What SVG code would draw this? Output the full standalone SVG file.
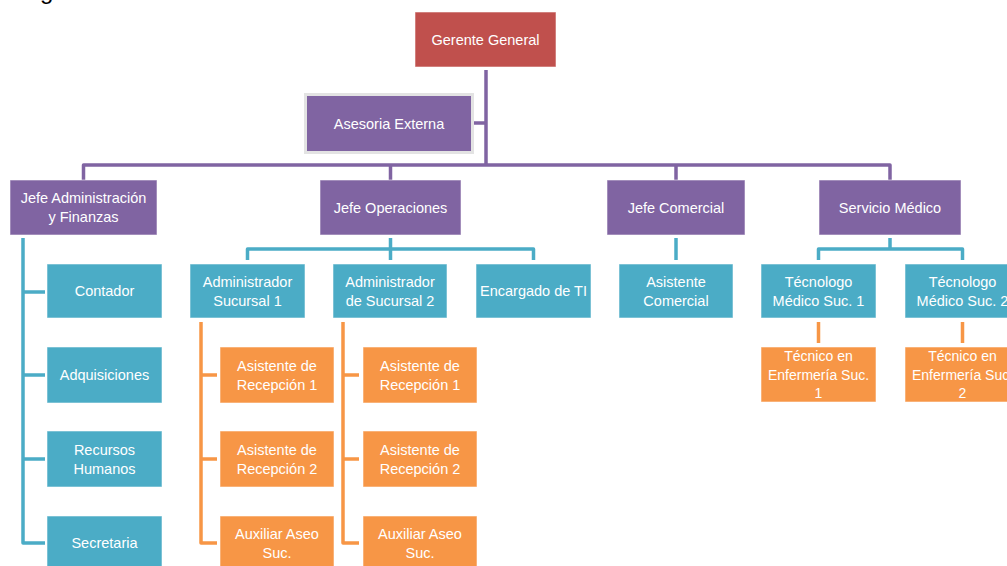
<svg xmlns="http://www.w3.org/2000/svg" width="1007" height="566" viewBox="0 0 1007 566">
<style>
.box{stroke:#ffffff;stroke-opacity:0.55;stroke-width:1}
.red{fill:#c0504d}
.pur{fill:#8064a2}
.teal{fill:#4bacc6}
.org{fill:#f79646}
.t{font-family:"Liberation Sans",Arial,sans-serif;font-size:14.5px;fill:#ffffff;text-anchor:middle}
.s{font-size:14px}
.c{fill:none;stroke-width:3.5;stroke-linejoin:round;stroke-linecap:butt}
.cp{stroke:#8064a2}
.ct{stroke:#4bacc6}
.co{stroke:#f79646}
</style>
<rect width="1007" height="566" fill="#ffffff"/>
<text x="40" y="-1" font-family="Liberation Sans,Arial,sans-serif" font-size="24" fill="#000000">g</text>
<g id="connectors">
<path class="c cp" d="M486,70 V165 M83.5,180 V165 H890 V180 M390.5,165 V180 M676,165 V180 M474,123 H486"/>
<path class="c ct" d="M23,238 V543 H45 M23,292 H45 M23,375 H45 M23,459 H45"/>
<path class="c ct" d="M390.5,238 V260 M247.5,260 V249 H533.5 V260"/>
<path class="c ct" d="M676,238 V260"/>
<path class="c ct" d="M890,238 V249 M818.5,260 V249 H962.5 V260"/>
<path class="c co" d="M201,322 V543 H217 M201,375 H217 M201,459 H217"/>
<path class="c co" d="M343,322 V543 H359 M343,375 H359 M343,459 H359"/>
<path class="c co" d="M818.5,322 V343 M962.5,322 V343"/>
</g>
<g id="gerente-general"><rect class="box red" x="415" y="12" width="141" height="55"/><text class="t" x="485.5" y="45">Gerente General</text></g>
<g id="asesoria-externa"><rect x="304" y="93" width="170" height="61" fill="#e3e3e3"/><rect class="pur" x="307" y="96" width="164" height="55"/><text class="t" x="389" y="128.5">Asesoria Externa</text></g>
<g id="jefe-admin"><rect class="box pur" x="10" y="180" width="147" height="55"/><text class="t" x="83.5" y="203"><tspan x="83.5">Jefe Administración</tspan><tspan x="83.5" dy="19">y Finanzas</tspan></text></g>
<g id="jefe-operaciones"><rect class="box pur" x="320" y="180" width="141" height="55"/><text class="t" x="390.5" y="212.5">Jefe Operaciones</text></g>
<g id="jefe-comercial"><rect class="box pur" x="607" y="180" width="138" height="55"/><text class="t" x="676" y="212.5">Jefe Comercial</text></g>
<g id="servicio-medico"><rect class="box pur" x="819" y="180" width="142" height="55"/><text class="t" x="890" y="212.5">Servicio Médico</text></g>
<g id="contador"><rect class="box teal" x="47" y="264" width="115" height="54"/><text class="t" x="104.5" y="296">Contador</text></g>
<g id="adquisiciones"><rect class="box teal" x="47" y="347" width="115" height="56"/><text class="t" x="104.5" y="380">Adquisiciones</text></g>
<g id="recursos-humanos"><rect class="box teal" x="47" y="431" width="115" height="56"/><text class="t" x="104.5" y="455"><tspan x="104.5">Recursos</tspan><tspan x="104.5" dy="18.5">Humanos</tspan></text></g>
<g id="secretaria"><rect class="box teal" x="47" y="516" width="115" height="56"/><text class="t" x="104.5" y="548">Secretaria</text></g>
<g id="admin-suc1"><rect class="box teal" x="190" y="264" width="115" height="54"/><text class="t" x="247.5" y="287"><tspan x="247.5">Administrador</tspan><tspan x="247.5" dy="18.5">Sucursal 1</tspan></text></g>
<g id="admin-suc2"><rect class="box teal" x="333" y="264" width="114" height="54"/><text class="t" x="390" y="287"><tspan x="390">Administrador</tspan><tspan x="390" dy="18.5">de Sucursal 2</tspan></text></g>
<g id="encargado-ti"><rect class="box teal" x="476" y="264" width="115" height="54"/><text class="t" x="533.5" y="296">Encargado de TI</text></g>
<g id="asistente-comercial"><rect class="box teal" x="619" y="264" width="114" height="54"/><text class="t" x="676" y="287"><tspan x="676">Asistente</tspan><tspan x="676" dy="18.5">Comercial</tspan></text></g>
<g id="tecnologo-1"><rect class="box teal" x="761" y="264" width="115" height="54"/><text class="t" x="818.5" y="287"><tspan x="818.5">Técnologo</tspan><tspan x="818.5" dy="18.5">Médico Suc. 1</tspan></text></g>
<g id="tecnologo-2"><rect class="box teal" x="905" y="264" width="115" height="54"/><text class="t" x="962.5" y="287"><tspan x="962.5">Técnologo</tspan><tspan x="962.5" dy="18.5">Médico Suc. 2</tspan></text></g>
<g id="asist-recep1-s1"><rect class="box org" x="220" y="347" width="114" height="56"/><text class="t" x="277" y="371"><tspan x="277">Asistente de</tspan><tspan x="277" dy="18.5">Recepción 1</tspan></text></g>
<g id="asist-recep2-s1"><rect class="box org" x="220" y="431" width="114" height="56"/><text class="t" x="277" y="455"><tspan x="277">Asistente de</tspan><tspan x="277" dy="18.5">Recepción 2</tspan></text></g>
<g id="aux-aseo-s1"><rect class="box org" x="220" y="516" width="114" height="56"/><text class="t" x="277" y="539"><tspan x="277">Auxiliar Aseo</tspan><tspan x="277" dy="18.5">Suc.</tspan></text></g>
<g id="asist-recep1-s2"><rect class="box org" x="363" y="347" width="114" height="56"/><text class="t" x="420" y="371"><tspan x="420">Asistente de</tspan><tspan x="420" dy="18.5">Recepción 1</tspan></text></g>
<g id="asist-recep2-s2"><rect class="box org" x="363" y="431" width="114" height="56"/><text class="t" x="420" y="455"><tspan x="420">Asistente de</tspan><tspan x="420" dy="18.5">Recepción 2</tspan></text></g>
<g id="aux-aseo-s2"><rect class="box org" x="363" y="516" width="114" height="56"/><text class="t" x="420" y="539"><tspan x="420">Auxiliar Aseo</tspan><tspan x="420" dy="18.5">Suc.</tspan></text></g>
<g id="tecnico-enf-1"><rect class="box org" x="761" y="347" width="115" height="55"/><text class="t s" x="818.5" y="361"><tspan x="818.5">Técnico en</tspan><tspan x="818.5" dy="18.5">Enfermería Suc.</tspan><tspan x="818.5" dy="18.5">1</tspan></text></g>
<g id="tecnico-enf-2"><rect class="box org" x="905" y="347" width="115" height="55"/><text class="t s" x="962.5" y="361"><tspan x="962.5">Técnico en</tspan><tspan x="962.5" dy="18.5">Enfermería Suc.</tspan><tspan x="962.5" dy="18.5">2</tspan></text></g>
</svg>
